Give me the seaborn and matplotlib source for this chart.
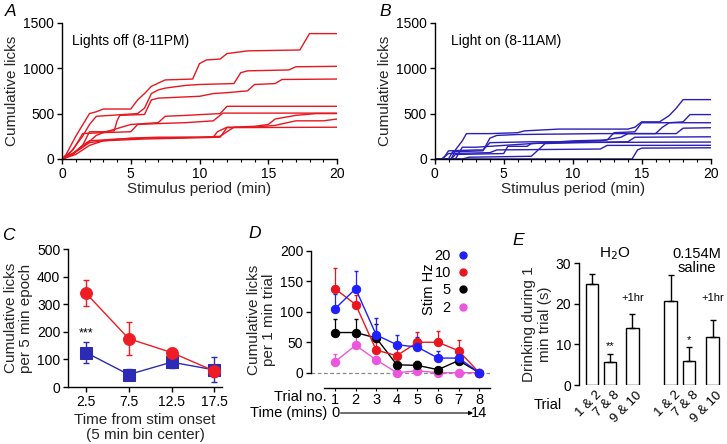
import numpy as np
import pandas as pd
import matplotlib
matplotlib.use("Agg")
import matplotlib.pyplot as plt
import matplotlib.transforms as mtransforms
from matplotlib.lines import Line2D
import seaborn as sns

# ---------------- data ----------------
# Panel A: cumulative lick traces, lights off (time in min, cumulative licks)
A_times = [
    [0, 0.3, 1, 2, 2.5, 3, 5, 5.5, 6, 6.5, 7.5, 9.5, 10, 10.5, 11.5, 12, 13.5, 17.3, 18, 20],
    [0, 0.5, 1.5, 2, 2.5, 4.5, 5.5, 6, 6.5, 7, 7.5, 9, 10, 12.5, 13, 13.5, 16.5, 17, 20],
    [0, 0.7, 1.5, 2, 3, 3.8, 4, 4.2, 6, 6.5, 7, 8.5, 10, 11, 12, 13.5, 14, 15.5, 16, 20],
    [0, 0.5, 1.5, 2.5, 3, 5, 7, 7.5, 9, 11.5, 12, 20],
    [0, 0.8, 1.2, 1.5, 3, 5, 5.5, 7, 9, 11, 11.7, 20],
    [0, 0.8, 1.5, 2, 4, 6, 10, 11.5, 12.5, 14, 15, 15.5, 17, 18.5, 20],
    [0, 1, 2, 3, 5, 7, 11, 11.3, 12, 14, 15.5, 17, 19, 20],
    [0, 1, 1.5, 2, 3, 4.5, 6, 9, 11.5, 12, 20],
]
A_licks = [
    [0, 50, 250, 500, 520, 550, 550, 650, 720, 800, 870, 880, 1050, 1090, 1100, 1160, 1190, 1200, 1380, 1380],
    [0, 50, 250, 380, 470, 490, 500, 560, 720, 760, 780, 810, 820, 830, 950, 970, 980, 1015, 1020],
    [0, 50, 150, 300, 300, 310, 420, 480, 490, 650, 670, 680, 690, 720, 730, 750, 820, 830, 875, 880],
    [0, 30, 130, 260, 290, 380, 400, 470, 480, 500, 580, 580],
    [0, 100, 200, 280, 290, 300, 380, 390, 400, 420, 505, 505],
    [0, 50, 150, 200, 220, 230, 240, 250, 350, 360, 380, 440, 480, 500, 500],
    [0, 80, 180, 200, 230, 240, 240, 300, 350, 350, 370, 420, 420, 440],
    [0, 50, 100, 150, 200, 210, 220, 230, 240, 345, 350],
]
# Panel B: cumulative lick traces, lights on
B_times = [
    [0, 1.2, 1.5, 2, 2.3, 4, 6, 6.5, 9, 14, 14.5, 15, 16.3, 17, 17.5, 18, 20],
    [0, 1, 1.3, 3.5, 4, 4.5, 6, 12, 16, 16.5, 17, 18, 18.5, 20],
    [0, 1.5, 2, 3, 5, 8, 10, 12.5, 13, 14.5, 15, 20],
    [0, 0.6, 1, 3, 3.5, 4, 7, 10, 12, 13.5, 14, 17.5, 18, 20],
    [0, 1.2, 1.5, 5, 5.3, 6.7, 7, 8, 9.5, 14, 14.5, 20],
    [0, 2, 2.5, 7, 8, 10, 12, 20],
    [0, 0.5, 1, 4, 4.5, 12, 12.5, 20],
    [0, 14.3, 14.7, 15, 20],
]
B_licks = [
    [0, 0, 100, 200, 280, 280, 290, 310, 330, 330, 350, 410, 410, 480, 560, 655, 655],
    [0, 0, 80, 90, 230, 260, 270, 280, 280, 350, 400, 410, 490, 490],
    [0, 0, 130, 130, 150, 180, 200, 210, 290, 300, 400, 400],
    [0, 0, 90, 100, 100, 180, 190, 190, 200, 240, 280, 280, 340, 345],
    [0, 0, 50, 60, 140, 140, 170, 175, 180, 190, 240, 245],
    [0, 0, 20, 30, 170, 180, 183, 187],
    [0, 0, 60, 70, 100, 110, 150, 151],
    [0, 0, 100, 120, 124],
]

# Panel C: licks per 5 min epoch
C_bins = [2.5, 7.5, 12.5, 17.5]
C_off_mean = [340, 175, 125, 58]
C_off_err = [46, 60, 15, 22]
C_on_mean = [125, 45, 90, 62]
C_on_err = [38, 20, 20, 45]

# Panel D: licks per 1 min trial at each stim frequency
D_trials = [1, 2, 3, 4, 5, 6, 7, 8]
D_freqs = ["20", "10", "5", "2"]
D_means = {
    "20": [105, 138, 62, 46, 42, 24, 24, 0],
    "10": [138, 112, 37, 28, 50, 50, 36, 0],
    "5": [66, 66, 57, 13, 12, 5, 20, 0],
    "2": [18, 45, 21, 0, 3, 0, 0, 0],
}
D_errs = {
    "20": [25, 29, 28, 16, 16, 11, 8, 0],
    "10": [34, 15, 13, 12, 17, 18, 17, 0],
    "5": [23, 23, 23, 12, 8, 3, 10, 0],
    "2": [12, 15, 7, 2, 3, 2, 2, 0],
}

# Panel E: drinking time per trial
E_labels = ["1 & 2", "7 & 8", "9 & 10", "1 & 2", "7 & 8", "9 & 10"]
E_means = [25.0, 5.7, 14.1, 20.7, 6.0, 11.8]
E_errs = [2.3, 2.0, 3.3, 6.3, 3.3, 4.1]
E_stars = ["", "**", "+1hr", "", "*", "+1hr"]

# ---------------- style ----------------
sns.set_theme(style="ticks")
plt.rcParams["font.family"] = ["Liberation Sans", "DejaVu Sans"]
plt.rcParams.update({
    "axes.linewidth": 1.0,
    "xtick.major.width": 1.0, "ytick.major.width": 1.0,
    "xtick.major.size": 3.5, "ytick.major.size": 3.5,
    "xtick.labelsize": 10, "ytick.labelsize": 10,
    "axes.labelsize": 11, "xtick.color": "black", "ytick.color": "black",
    "axes.edgecolor": "black", "text.color": "black",
    "xtick.major.pad": 2, "ytick.major.pad": 2,
})

W, H = 727, 444
fig = plt.figure(figsize=(W / 100, H / 100), dpi=100)


def ax_px(l, t, r, b):
    return fig.add_axes([l / W, 1 - b / H, (r - l) / W, (b - t) / H])


def fig_text(x, y, s, **kw):
    fig.text(x / W, 1 - y / H, s, **kw)


RED = "#e8161e"
DBLUE = "#2a1fb8"

# ---------- Panels A and B ----------
for box, times, licks, col, label, lx in [
    ((62, 22.7, 337, 159), A_times, A_licks, RED, "Lights off (8-11PM)", 0.035),
    ((434.7, 23, 710.7, 159), B_times, B_licks, DBLUE, "Light on (8-11AM)", 0.06),
]:
    ax = ax_px(*box)
    for t, v in zip(times, licks):
        sns.lineplot(x=t, y=v, ax=ax, color=col, lw=1.0, sort=False, estimator=None)
    ax.set_xlim(0, 20)
    ax.set_ylim(0, 1500)
    ax.set_xticks([0, 5, 10, 15, 20])
    ax.set_xticks(np.arange(0, 21, 1), minor=True)
    ax.tick_params(axis="x", which="minor", length=2.2, width=0.8, bottom=True)
    ax.set_yticks([0, 500, 1000, 1500])
    ax.set_xlabel("Stimulus period (min)", labelpad=1)
    ax.set_ylabel("Cumulative licks", labelpad=3)
    ax.text(lx, 0.84, label, transform=ax.transAxes, fontsize=10)
    sns.despine(ax=ax)

# ---------- Panel C ----------
axC = ax_px(68, 249, 222, 387)
C_RED = "#ee1c24"
C_BLUE = "#2b2bb5"
axC.errorbar(C_bins, C_on_mean, yerr=C_on_err, fmt="none", ecolor=C_BLUE, elinewidth=1, capsize=2, zorder=2)
axC.errorbar(C_bins, C_off_mean, yerr=C_off_err, fmt="none", ecolor=C_RED, elinewidth=1, capsize=2, zorder=2)
sns.lineplot(x=C_bins, y=C_on_mean, ax=axC, color=C_BLUE, lw=1.0, marker="s", markersize=8,
             markeredgecolor=C_BLUE, zorder=3)
sns.lineplot(x=C_bins, y=C_off_mean, ax=axC, color=C_RED, lw=1.0, marker="o", markersize=8.5,
             markeredgecolor=C_RED, zorder=4)
axC.set_xlim(0.4, 18.4)
axC.set_ylim(0, 500)
axC.set_xticks(C_bins)
axC.set_xticklabels(["2.5", "7.5", "12.5", "17.5"])
axC.set_yticks(np.arange(0, 501, 100))
axC.set_xlabel("Time from stim onset\n(5 min bin center)", labelpad=3, linespacing=1.1)
axC.set_ylabel("Cumulative licks\nper 5 min epoch", labelpad=3, linespacing=1.1)
axC.text(2.5, 195, "***", ha="center", va="center", fontsize=9)
sns.despine(ax=axC)

# ---------- Panel D ----------
axD = ax_px(311, 251, 490, 387.9)
D_COLORS = {"20": "#1f1fff", "10": "#e8161e", "5": "#000000", "2": "#ee55dd"}
axD.axhline(0, ls=(0, (3, 2)), color="#888888", lw=0.9, zorder=1)
for f in ["2", "5", "10", "20"]:
    c = D_COLORS[f]
    axD.errorbar(D_trials, D_means[f], yerr=[[0] * 8, D_errs[f]], fmt="none", ecolor=c,
                 elinewidth=0.9, capsize=1.5, zorder=2)
for f in ["2", "5", "10", "20"]:
    c = D_COLORS[f]
    sns.lineplot(x=D_trials, y=D_means[f], ax=axD, color=c, lw=1.0, marker="o", markersize=6,
                 markeredgecolor=c, zorder=3)
axD.set_xlim(-0.165, 8.52)
axD.set_ylim(-25, 200)
axD.set_yticks([0, 50, 100, 150, 200])
axD.spines["left"].set_bounds(0, 200)
axD.spines["bottom"].set_bounds(0.47, 8.52)
axD.set_xticks(D_trials)
axD.set_xticklabels([str(t) for t in D_trials])
axD.tick_params(axis="x", length=2.5, width=0.8, pad=1.5, labelsize=10.5)
axD.set_ylabel("Cumulative licks\nper 1 min trial", labelpad=3, linespacing=1.1)
sns.despine(ax=axD)
tD = mtransforms.blended_transform_factory(axD.transData, fig.transFigure)
axD.text(0.6, 1 - 396.5 / H, "Trial no.", transform=tD, ha="right", va="center", fontsize=10.5)
axD.text(0.6, 1 - 413 / H, "Time (mins)", transform=tD, ha="right", va="center", fontsize=10.5)
axD.text(1, 1 - 413 / H, "0", transform=tD, ha="center", va="center", fontsize=10.5)
axD.text(8, 1 - 413 / H, "14", transform=tD, ha="center", va="center", fontsize=10.5)
axD.annotate("", xy=(7.7, 1 - 413 / H), xytext=(1.27, 1 - 413 / H), xycoords=tD, textcoords=tD,
             arrowprops=dict(arrowstyle="-|>", color="black", lw=0.8, mutation_scale=6,
                             shrinkA=0, shrinkB=0))
handles = [Line2D([], [], ls="none", marker="o", markersize=5, color=D_COLORS[f]) for f in D_freqs]
axD.legend(handles, D_freqs, loc="upper right", bbox_to_anchor=(469 / W, 1 - 249 / H),
           bbox_transform=fig.transFigure, frameon=False, markerfirst=False, fontsize=10.5,
           handlelength=0.8, handletextpad=0.45, labelspacing=0.22, borderpad=0,
           borderaxespad=0)
for txt in axD.get_legend().get_texts():
    txt.set_ha("right")
fig_text(429, 289, "Stim Hz", rotation=90, ha="center", va="center", fontsize=10.5)

# ---------- Panel E ----------
axE = ax_px(579, 263.3, 722, 385)
E_pos = [0, 0.96, 2.14, 4.15, 5.13, 6.36]
sns.barplot(x=E_pos, y=E_means, ax=axE, native_scale=True, color="white", edgecolor="black",
            linewidth=1.0, width=0.68, errorbar=None, saturation=1)
axE.errorbar(E_pos, E_means, yerr=[[0] * 6, E_errs], fmt="none", ecolor="black", elinewidth=1,
             capsize=2.5, capthick=1)
axE.set_xlim(-0.67, 6.85)
axE.set_ylim(0, 30)
axE.set_yticks([0, 10, 20, 30])
axE.set_xticks(E_pos)
axE.set_xticklabels(E_labels, rotation=45, ha="right", va="top", rotation_mode="anchor", fontsize=9.5)
axE.tick_params(axis="x", length=0, pad=3)
shift = mtransforms.ScaledTranslation(3.5 / 100, 0, fig.dpi_scale_trans)
for lab in axE.get_xticklabels():
    lab.set_transform(lab.get_transform() + shift)
axE.set_xlabel("")
axE.set_ylabel("Drinking during 1\nmin trial (s)", labelpad=3, linespacing=1.1)
for p, m, e, s in zip(E_pos, E_means, E_errs, E_stars):
    if s == "+1hr":
        axE.text(p, 20.3, s, ha="center", va="bottom", fontsize=8)
    elif s:
        axE.text(p, m + e + 0.6, s, ha="center", va="bottom", fontsize=8)
sns.despine(ax=axE, bottom=True)
fig_text(548, 405, "Trial", ha="center", va="center", fontsize=10.5)
fig_text(615, 254, "H$_2$O", ha="center", va="center", fontsize=11)
fig_text(697, 261, "0.154M\nsaline", ha="center", va="center", fontsize=10.5, linespacing=1.05)

# ---------- panel letters ----------
for x, y, s in [(11, 12, "A"), (385, 12, "B"), (8, 235, "C"), (255, 234, "D"), (518, 240, "E")]:
    fig_text(x, y, s, ha="center", va="center", fontsize=12.5, style="italic")

fig.savefig("out.png", dpi=100)
